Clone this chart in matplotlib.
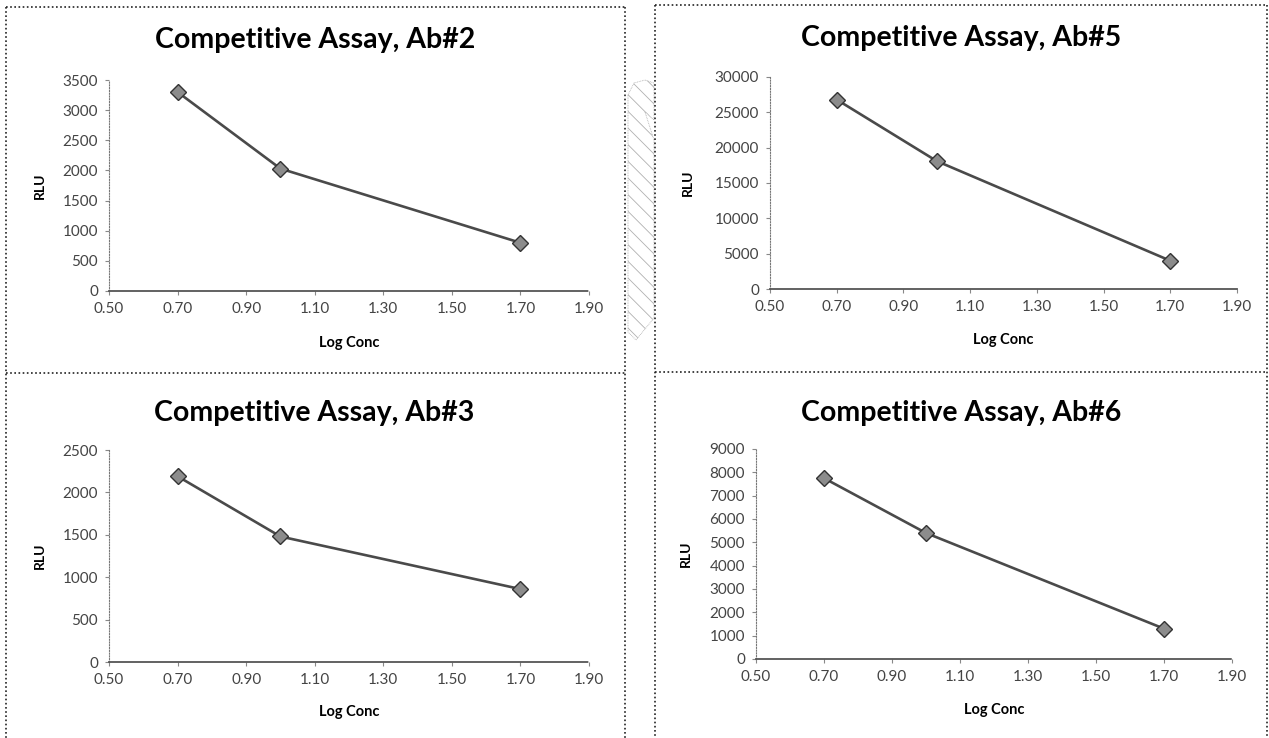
import numpy as np
import matplotlib.pyplot as plt
from matplotlib.patches import Polygon
from matplotlib.lines import Line2D

# data
log_conc = [0.70, 1.00, 1.70]
rlu_ab2 = [3300, 2030, 800]
rlu_ab5 = [26800, 18100, 4000]
rlu_ab3 = [2190, 1480, 860]
rlu_ab6 = [7750, 5400, 1300]

titles = ["Competitive Assay, Ab#2", "Competitive Assay, Ab#5",
          "Competitive Assay, Ab#3", "Competitive Assay, Ab#6"]
ymax = [3500, 30000, 2500, 9000]
ystep = [500, 5000, 500, 1000]
xticks = [0.50, 0.70, 0.90, 1.10, 1.30, 1.50, 1.70, 1.90]

W, H = 1269, 738
plt.rcParams["hatch.linewidth"] = 0.6
fig = plt.figure(figsize=(W / 100, H / 100), dpi=100)
fig.patch.set_facecolor("white")

def fx(x):
    return x / W

def fy(y):
    return 1 - y / H

# panel layout in pixels: axes left, right, top, bottom, title y, title x, rlu x, logconc y
boxes = [
    (109, 589, 80, 291, 40, 315, 40, 343),
    (770, 1237, 77, 289, 38, 961, 688, 340),
    (109, 589, 450, 662, 413, 314, 40, 712),
    (756, 1232, 449, 659, 413, 961, 686, 710),
]
series = [rlu_ab2, rlu_ab5, rlu_ab3, rlu_ab6]

for i, (l, r, t, b, ty, tx, rx, ly) in enumerate(boxes):
    ax = fig.add_axes([fx(l), fy(b), (r - l) / W, (b - t) / H])
    ax.plot(log_conc, series[i], color="#4a4a4a", lw=1.9,
            marker="D", ms=8, mfc="#8c8c8c", mec="#333333", mew=1.0)
    ax.set_xlim(0.5, 1.9)
    ax.set_ylim(0, ymax[i])
    ax.set_xticks(xticks)
    ax.set_xticklabels(["%.2f" % v for v in xticks])
    ax.set_yticks(np.arange(0, ymax[i] + 1, ystep[i]))
    for s in ["top", "right"]:
        ax.spines[s].set_visible(False)
    ax.spines["left"].set_linestyle((0, (1, 1.5)))
    ax.spines["left"].set_color("#777777")
    ax.spines["left"].set_linewidth(0.8)
    ax.spines["bottom"].set_linestyle((0, (1, 1)))
    ax.spines["bottom"].set_color("#555555")
    ax.spines["bottom"].set_linewidth(1.3)
    ax.tick_params(length=3, width=0.8, color="#888888", labelsize=11,
                   labelcolor="#444444", pad=5)
    for lab in ax.get_xticklabels() + ax.get_yticklabels():
        lab.set_family("Lato")
    fig.text(fx(tx), fy(ty), titles[i], ha="center", va="center",
             fontsize=20.5, fontweight="bold", family="Lato")
    fig.text(fx(rx), fy((t + b) / 2), "RLU", rotation=90, ha="center",
             va="center", fontsize=10, fontweight="bold", family="Lato")
    fig.text(fx((l + r) / 2), fy(ly), "Log Conc", ha="center", va="center",
             fontsize=10.5, fontweight="bold", family="Lato")

# dotted panel borders
dot = dict(color="#222222", lw=1.2, ls=(0, (1, 1.5)), transform=fig.transFigure)
borders = [
    ([6, 625], [7, 7]), ([6, 6], [7, 738]), ([625, 625], [7, 738]),
    ([6, 625], [373, 373]),
    ([655, 1267], [5, 5]), ([655, 655], [5, 738]), ([1267, 1267], [5, 738]),
    ([655, 1267], [372, 372]),
]
for xs, ys in borders:
    fig.add_artist(Line2D([fx(v) for v in xs], [fy(v) for v in ys], **dot))

# faint hatched shape between the two columns
shape = [(628, 95), (634, 83), (645, 80), (654, 83), (654, 120), (645, 112),
         (654, 140), (654, 318), (636, 340), (628, 332)]
fig.add_artist(Polygon([(fx(x), fy(y)) for x, y in shape], closed=True,
                       transform=fig.transFigure, fill=False,
                       edgecolor="#b0b0b0", lw=0.6, ls=(0, (1, 1)),
                       hatch="\\\\"))

fig.savefig("out.png", dpi=100, facecolor="white")
